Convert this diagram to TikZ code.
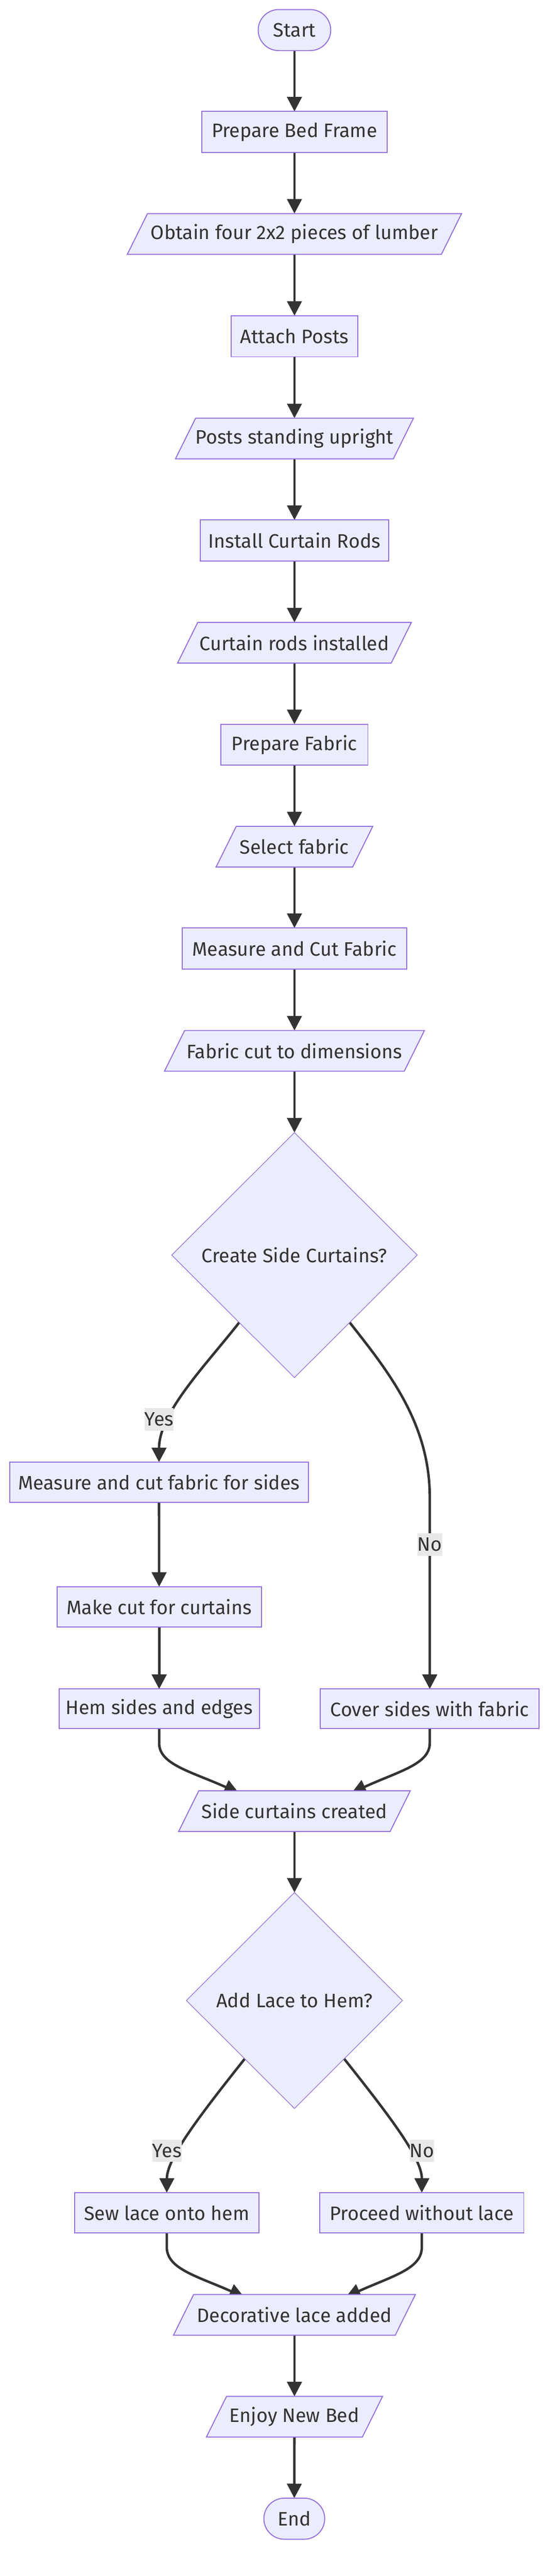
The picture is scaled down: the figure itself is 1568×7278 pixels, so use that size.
\documentclass[tikz,border=0pt]{standalone}
\usepackage{fontspec}
\setmainfont{Fira Sans}
\usetikzlibrary{arrows.meta,shapes.geometric,calc}
\definecolor{nfill}{HTML}{ECECFF}
\definecolor{nstroke}{HTML}{9370DB}
\definecolor{ink}{HTML}{333333}
\definecolor{lblbg}{HTML}{E8E8E8}
\pgfdeclarelayer{edgelayer}
\pgfdeclarelayer{shapelayer}
\pgfsetlayers{edgelayer,shapelayer,main}
\newlength\refw
\newcommand\mkpara[1]{%
  \path[draw=nstroke, fill=nfill, line width=1.4pt, line join=miter]
   ([xshift=-14.25pt]#1.south west) -- ([xshift=14.25pt]#1.north west)
   -- ([xshift=14.25pt]#1.north east) -- ([xshift=-14.25pt]#1.south east) -- cycle;}
\begin{document}
\settowidth\refw{\fontsize{10pt}{12pt}\selectfont Prepare Bed Frame}%
\pgfmathsetmacro\fsz{10*234/\refw}%
\pgfmathsetmacro\fbs{1.2*\fsz}%
\begin{tikzpicture}[x=0.5pt,y=-0.5pt,
  every node/.style={font=\fontsize{\fsz pt}{\fbs pt}\selectfont, text=ink, inner sep=0pt, outer sep=0pt},
  box/.style={draw=nstroke, fill=nfill, line width=1.4pt, minimum height=58pt},
  term/.style={box, rounded corners=29pt},
  para/.style={minimum height=57.5pt},
  dec/.style={diamond, draw=nstroke, fill=nfill, line width=0.9pt},
  conn/.style={draw=ink, line width=3.5pt, -{Triangle[length=20.5pt,width=20.5pt]}},
  lbl/.style={fill=lblbg, minimum height=31.5pt}
]
\useasboundingbox (0,0) rectangle (1568,7278);

\node[term, minimum width=102.5pt] (nstart) at (832.5,85) {Start};
\node[box, minimum width=262.5pt] (n1) at (832.5,373) {Prepare Bed Frame};
\node[para, minimum width=444pt] (p1) at (832.5,661) {Obtain four 2x2 pieces of lumber};
\node[box, minimum width=178.5pt] (n2) at (832.5,950) {Attach Posts};
\node[para, minimum width=308pt] (p2) at (832.5,1239) {Posts standing upright};
\node[box, minimum width=266pt] (n3) at (832.5,1527) {Install Curtain Rods};
\node[para, minimum width=302pt] (p3) at (832.5,1816) {Curtain rods installed};
\node[box, minimum width=207.5pt] (n4) at (832.5,2104) {Prepare Fabric};
\node[para, minimum width=193pt] (p4) at (832.5,2392) {Select fabric};
\node[box, minimum width=317pt] (n5) at (832.5,2680) {Measure and Cut Fabric};
\node[para, minimum width=339pt] (p5) at (832.5,2969) {Fabric cut to dimensions};
\node[dec, minimum width=347pt, minimum height=346pt] (d1) at (832.5,3546) {Create Side Curtains?};
\node[box, minimum width=422.5pt, minimum height=57pt] (n6) at (449.5,4188) {Measure and cut fabric for sides};
\node[box, minimum width=289pt, minimum height=57pt] (n7) at (450,4540) {Make cut for curtains};
\node[box, minimum width=283pt, minimum height=56pt] (n8) at (450,4828) {Hem sides and edges};
\node[box, minimum width=309pt, minimum height=56pt] (n9) at (1215,4828) {Cover sides with fabric};
\node[para, minimum width=299pt] (p6) at (832.5,5117) {Side curtains created};
\node[dec, minimum width=305.5pt, minimum height=305pt] (d2) at (832.5,5652) {Add Lace to Hem?};
\node[box, minimum width=260.5pt, minimum height=57pt] (n10) at (471.5,6252) {Sew lace onto hem};
\node[box, minimum width=288.5pt, minimum height=57pt] (n11) at (1192.5,6252) {Proceed without lace};
\node[para, minimum width=313.5pt] (p7) at (832.5,6540) {Decorative lace added};
\node[para, minimum width=220.5pt] (p8) at (832.5,6828) {Enjoy New Bed};
\node[term, minimum width=86pt] (nend) at (832,7116) {End};

\node[lbl, minimum width=38.5pt] (l1) at (450,4010) {Yes};
\node[lbl, minimum width=32.5pt] (l2) at (1215,4364) {No};
\node[lbl, minimum width=39pt] (l3) at (472,6076) {Yes};
\node[lbl, minimum width=33pt] (l4) at (1193,6076) {No};

\begin{pgfonlayer}{shapelayer}
\foreach \i in {1,...,8} {\mkpara{p\i}}
\end{pgfonlayer}

\begin{pgfonlayer}{edgelayer}
\draw[conn] (nstart) -- (n1);
\draw[conn] (n1) -- (p1);
\draw[conn] (p1) -- (n2);
\draw[conn] (n2) -- (p2);
\draw[conn] (p2) -- (n3);
\draw[conn] (n3) -- (p3);
\draw[conn] (p3) -- (n4);
\draw[conn] (n4) -- (p4);
\draw[conn] (p4) -- (n5);
\draw[conn] (n5) -- (p5);
\draw[conn] (p5) -- (d1);
\draw[conn] ($(d1.west)!0.55!(d1.south)$) .. controls (582,3857) and (450,3990) .. (n6.north);
\draw[conn] ($(d1.east)!0.55!(d1.south)$) .. controls (1097,3874) and (1215,4020) .. (1215,4230) -- (n9.north);
\draw[conn] (n6) -- (n7);
\draw[conn] (n7) -- (n8);
\draw[conn] (n8.south) -- ++(0,41) .. controls (450,4985) and (540,5005) .. ($(p6.north)+(-157.5,6)$);
\draw[conn] (n9.south) -- ++(0,41) .. controls (1215,4985) and (1125,5005) .. ($(p6.north)+(161.5,6)$);
\draw[conn] (p6) -- (d2);
\draw[conn] ($(d2.west)!0.54!(d2.south)$) .. controls (554,5990) and (472,6100) .. (n10.north);
\draw[conn] ($(d2.east)!0.54!(d2.south)$) .. controls (1111,5990) and (1193,6100) .. (n11.north);
\draw[conn] (n10.south) -- ++(0,40) .. controls (472,6410) and (555,6430) .. ($(p7.north)+(-142.5,7)$);
\draw[conn] (n11.south) -- ++(0,40) .. controls (1193,6410) and (1110,6430) .. ($(p7.north)+(145.5,7)$);
\draw[conn] (p7) -- (p8);
\draw[conn] (p8) -- (nend);
\end{pgfonlayer}
\end{tikzpicture}
\end{document}
